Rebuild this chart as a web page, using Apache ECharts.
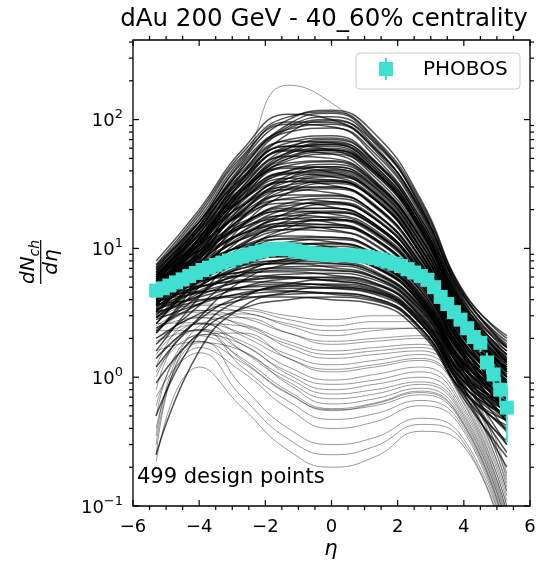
<!DOCTYPE html>
<html>
<head>
<meta charset="utf-8">
<script src="https://cdn.jsdelivr.net/npm/echarts@6/dist/echarts.min.js"></script>
<style>
  html, body { margin: 0; padding: 0; background: #fff; }
  #chart { width: 548px; height: 565px; }
</style>
</head>
<body>
<div id="chart"></div>
<script>
// pseudorapidity points at which each design-point curve is tabulated
const etaGrid = [-5.3, -4, -2.7, -1.3, 0, 1.3, 2.7, 4, 5.3];

// model curves, grouped by the height of their mid-rapidity plateau
const curvesA = [
  [6, 14, 45, 185, 135, 65, 20, 4, 1.4],
  [7.5, 19, 55, 105, 115, 72, 23, 4.5, 2.1],
  [6.5, 16, 48, 100, 118, 78, 24, 4.6, 2.0],
  [8, 20, 58, 110, 100, 58, 19, 4.2, 1.9],
  [5.5, 14, 42, 92, 112, 70, 21, 4, 1.6],
  [7, 17, 50, 96, 95, 60, 20, 4.3, 1.8],
  [6, 15, 44, 88, 105, 68, 22, 4.4, 1.7],
  [5, 12, 38, 85, 100, 62, 19, 3.6, 1.3],
  [7.2, 18, 52, 92, 88, 52, 17, 3.9, 1.7],
  [6.8, 16, 46, 84, 92, 60, 20, 4.2, 1.75],
  [4.5, 11, 34, 78, 98, 66, 21, 3.8, 1.3],
  [6.2, 15, 42, 80, 86, 55, 18, 3.7, 1.5]
];
const curvesB = [
  [6, 14, 38, 70, 75, 48, 16, 3.6, 1.5],
  [5.5, 13, 35, 66, 72, 47, 16, 3.4, 1.4],
  [7, 16, 40, 68, 66, 42, 15, 3.6, 1.7],
  [4.8, 11, 30, 60, 70, 48, 17, 3.5, 1.3],
  [6.5, 14.5, 36, 62, 62, 40, 14, 3.3, 1.5],
  [5, 12, 32, 62, 68, 44, 15, 3.2, 1.25],
  [4, 10, 28, 56, 66, 46, 16, 3.3, 1.15],
  [6.2, 14, 34, 58, 58, 38, 13.5, 3.2, 1.4],
  [5.8, 13, 33, 60, 64, 42, 15, 3.4, 1.35],
  [3.6, 9, 26, 54, 64, 44, 15, 3.0, 1.0],
  [7.4, 16, 38, 62, 58, 36, 13, 3.3, 1.6],
  [5.2, 12, 30, 55, 60, 40, 14, 3.1, 1.2],
  [4.4, 10.5, 28, 52, 58, 40, 14.5, 3.1, 1.1],
  [6.6, 15, 35, 57, 54, 34, 12.5, 3.1, 1.45],
  [5, 11.5, 29, 50, 56, 39, 14, 3.0, 1.15],
  [3.2, 8, 24, 50, 58, 40, 14, 2.8, 0.9],
  [6, 13.5, 32, 52, 50, 33, 12, 3.0, 1.35],
  [4.6, 11, 27, 48, 54, 38, 13.5, 2.9, 1.1]
];
const curvesC = [
  [5.5, 12, 28, 46, 48, 33, 12, 2.9, 1.25],
  [5, 11, 26, 44, 47, 32, 12, 2.8, 1.15],
  [6.2, 13, 28, 43, 42, 29, 11, 2.8, 1.3],
  [4.2, 9.5, 23, 40, 45, 32, 12, 2.7, 1.0],
  [6.8, 14, 29, 42, 39, 26, 10, 2.7, 1.35],
  [4.8, 10.5, 24, 40, 43, 30, 11, 2.6, 1.05],
  [3.6, 8.5, 21, 37, 43, 31, 11.5, 2.6, 0.9],
  [5.6, 11.5, 25, 39, 39, 27, 10, 2.6, 1.15],
  [5.2, 11, 24, 38, 40, 28, 10.5, 2.6, 1.1],
  [3, 7.5, 19, 35, 41, 30, 11, 2.5, 0.85],
  [6, 12.5, 26, 38, 36, 25, 9.5, 2.5, 1.2],
  [4.5, 9.5, 21, 35, 38, 27, 10, 2.4, 0.95],
  [4, 8.8, 20, 33, 37, 27, 10, 2.4, 0.9],
  [5.8, 12, 24, 35, 34, 24, 9, 2.4, 1.15],
  [4.9, 10, 22, 33, 34, 24, 9.2, 2.3, 1.0],
  [2.6, 6.5, 17, 31, 36, 27, 10, 2.3, 0.75],
  [6.4, 12.5, 24, 33, 31, 22, 8.5, 2.4, 1.2],
  [4.3, 9, 19.5, 31, 33, 24, 9, 2.2, 0.9],
  [3.4, 7.6, 17.5, 29, 33, 24.5, 9.2, 2.2, 0.8],
  [5.4, 10.8, 21.5, 30, 30, 21, 8.2, 2.2, 1.05],
  [4.6, 9.4, 19.5, 29, 30, 21.5, 8.4, 2.1, 0.92],
  [2.2, 5.6, 15, 27, 32, 24, 9, 2.1, 0.65],
  [5.9, 11.4, 21.5, 28.5, 27, 19, 7.6, 2.2, 1.1],
  [3.9, 8.2, 17.5, 27, 29, 21.5, 8.3, 2.0, 0.8]
];
const curvesD = [
  [5.2, 10, 19, 26, 26, 19, 7.8, 2.1, 0.95],
  [4.6, 9, 17, 24.5, 25.5, 19, 7.6, 2.0, 0.88],
  [5.8, 10.5, 18.5, 24, 23, 17, 7.2, 2.1, 1.0],
  [3.8, 7.6, 15, 22.5, 24.5, 18.5, 7.5, 1.9, 0.75],
  [6.2, 10.8, 18, 22.5, 21, 15.5, 6.8, 2.0, 1.02],
  [4.4, 8.4, 15.5, 21.5, 22.5, 17, 7, 1.85, 0.8],
  [3.2, 6.6, 13.5, 20.5, 23, 17.5, 7.2, 1.8, 0.68],
  [5, 9, 15.5, 20.5, 20.5, 15.5, 6.6, 1.85, 0.85],
  [4.8, 8.6, 15, 20, 20.5, 15.5, 6.7, 1.8, 0.83],
  [2.6, 5.8, 12, 19, 22, 17, 7, 1.7, 0.6],
  [5.6, 9.6, 16, 19.5, 18.5, 14, 6.2, 1.85, 0.92],
  [4.2, 7.8, 13.5, 18.5, 19.5, 15, 6.4, 1.7, 0.74],
  [3.7, 7, 12.5, 17.5, 19, 14.8, 6.3, 1.65, 0.68],
  [5.4, 9, 14.5, 18, 17.2, 13.2, 5.9, 1.75, 0.88],
  [4.6, 8, 13, 17, 17.5, 13.5, 5.9, 1.65, 0.78],
  [2.2, 5, 10.5, 16.5, 19, 15, 6.3, 1.55, 0.52],
  [6, 9.6, 14.5, 17, 15.8, 12, 5.5, 1.75, 0.95],
  [4, 7.2, 12, 16, 16.5, 12.8, 5.7, 1.55, 0.7],
  [3.3, 6.3, 11, 15.5, 16.8, 13.2, 5.8, 1.5, 0.62],
  [5.2, 8.4, 13, 15.6, 15.2, 11.8, 5.3, 1.6, 0.84],
  [4.4, 7.4, 11.8, 15, 15.3, 12, 5.4, 1.5, 0.72],
  [1.6, 4.2, 9.2, 14.5, 16.8, 13.5, 5.8, 1.4, 0.45],
  [5.7, 8.8, 13, 15, 14, 10.8, 5, 1.6, 0.88],
  [3.7, 6.6, 10.8, 14, 14.6, 11.6, 5.2, 1.45, 0.64],
  [4.9, 7.8, 11.8, 14, 13.6, 10.6, 4.9, 1.5, 0.78],
  [2.9, 5.6, 9.8, 13.4, 14.6, 11.8, 5.3, 1.4, 0.55]
];
const curvesE = [
  [4.8, 7.2, 10.5, 12.5, 12.2, 9.8, 4.7, 1.45, 0.75],
  [4.2, 6.5, 9.6, 12, 12.2, 9.8, 4.7, 1.4, 0.68],
  [5.4, 7.6, 10.4, 11.8, 11.2, 9, 4.4, 1.45, 0.8],
  [3.5, 5.7, 8.8, 11.2, 11.8, 9.6, 4.6, 1.35, 0.6],
  [5.8, 7.8, 10.2, 11, 10.2, 8.2, 4.2, 1.45, 0.85],
  [4, 6, 8.8, 10.6, 10.8, 8.8, 4.3, 1.3, 0.62],
  [2.9, 5, 8, 10.2, 11, 9, 4.4, 1.25, 0.52],
  [4.6, 6.6, 9.1, 10.3, 10, 8.2, 4.1, 1.3, 0.7],
  [4.4, 6.3, 8.7, 9.9, 9.9, 8.1, 4.1, 1.28, 0.68],
  [2.3, 4.3, 7.3, 9.6, 10.4, 8.6, 4.2, 1.2, 0.45],
  [5.1, 6.9, 9, 9.8, 9.3, 7.6, 3.9, 1.32, 0.76],
  [3.8, 5.6, 7.9, 9.3, 9.5, 7.9, 4, 1.22, 0.6],
  [3.3, 5.1, 7.4, 9, 9.4, 7.8, 4, 1.18, 0.55],
  [5, 6.6, 8.4, 9.1, 8.7, 7.2, 3.8, 1.26, 0.74],
  [4.2, 5.8, 7.7, 8.7, 8.7, 7.3, 3.8, 1.18, 0.64],
  [1.8, 3.6, 6.3, 8.4, 9.2, 7.8, 3.9, 1.1, 0.38],
  [5.5, 6.9, 8.3, 8.6, 8, 6.7, 3.6, 1.26, 0.8],
  [3.6, 5.2, 7, 8.2, 8.4, 7.1, 3.7, 1.1, 0.55],
  [2.9, 4.5, 6.6, 8, 8.4, 7.2, 3.7, 1.08, 0.48],
  [4.7, 6, 7.5, 8, 7.7, 6.5, 3.5, 1.15, 0.7],
  [4, 5.4, 7, 7.7, 7.6, 6.5, 3.5, 1.1, 0.6],
  [1.2, 2.9, 5.6, 7.6, 8.4, 7.2, 3.7, 1.0, 0.3],
  [5.2, 6.3, 7.4, 7.6, 7.1, 6, 3.3, 1.15, 0.75],
  [3.3, 4.7, 6.3, 7.2, 7.3, 6.3, 3.4, 1.0, 0.5]
];
const curvesF = [
  [4.4, 5.5, 6.6, 7, 6.8, 6, 3.3, 1.05, 0.6],
  [3.8, 5, 6.2, 6.8, 6.7, 5.9, 3.2, 1.0, 0.55],
  [4.8, 5.7, 6.5, 6.6, 6.2, 5.4, 3.0, 1.02, 0.62],
  [3.1, 4.3, 5.6, 6.3, 6.4, 5.7, 3.1, 0.95, 0.47],
  [5, 5.6, 6.1, 6, 5.6, 4.9, 2.8, 1.0, 0.64],
  [3.6, 4.6, 5.5, 6, 5.9, 5.3, 2.9, 0.92, 0.5],
  [2.4, 3.7, 5, 5.8, 6, 5.4, 3.0, 0.88, 0.38],
  [4.2, 5, 5.7, 5.9, 5.6, 5, 2.8, 0.92, 0.55],
  [0.5, 2.2, 4.1, 5.3, 5.7, 5.2, 2.9, 0.82, 0.26],
  [4.6, 5.1, 5.5, 5.4, 5.1, 4.6, 2.6, 0.94, 0.6],
  [3.4, 4.2, 5, 5.3, 5.2, 4.7, 2.7, 0.85, 0.46],
  [1.4, 2.8, 4.3, 5.1, 5.3, 4.8, 2.7, 0.8, 0.3],
  [3.9, 4.5, 5, 5.1, 4.9, 4.4, 2.6, 0.85, 0.5],
  [2.8, 3.7, 4.5, 4.9, 4.9, 4.5, 2.6, 0.8, 0.4],
  [0.25, 1.6, 3.5, 4.6, 5, 4.6, 2.6, 0.75, 0.2],
  [4.3, 4.6, 4.8, 4.7, 4.4, 4, 2.4, 0.84, 0.52],
  [3.2, 3.9, 4.4, 4.6, 4.5, 4.1, 2.4, 0.76, 0.42],
  [2, 3.1, 4, 4.4, 4.5, 4.1, 2.4, 0.72, 0.32],
  [3.7, 4, 4.2, 4.2, 4, 3.7, 2.2, 0.76, 0.46],
  [0.9, 2.2, 3.4, 4, 4.2, 3.9, 2.3, 0.68, 0.24]
];
const curvesG = [
  [2.8, 3.7, 3.5, 3.0, 2.8, 3.0, 3.0, 1.2, 0.18],
  [2.2, 3.3, 3.3, 2.8, 2.5, 2.7, 2.7, 1.1, 0.16],
  [3.2, 3.6, 3.2, 2.6, 2.3, 2.4, 2.4, 1.0, 0.17],
  [1.2, 3.0, 3.1, 2.5, 2.1, 2.3, 2.4, 1.0, 0.14],
  [2.5, 3.3, 2.9, 2.2, 1.9, 2.0, 2.1, 0.9, 0.15],
  [0.35, 2.5, 2.9, 2.2, 1.8, 1.9, 2.0, 0.85, 0.13],
  [1.8, 2.9, 2.6, 1.9, 1.6, 1.7, 1.8, 0.8, 0.13],
  [2.9, 3.2, 2.5, 1.8, 1.5, 1.6, 1.7, 0.75, 0.12],
  [0.8, 2.6, 2.5, 1.7, 1.4, 1.5, 1.6, 0.72, 0.11],
  [1.5, 2.6, 2.2, 1.5, 1.25, 1.35, 1.5, 0.68, 0.1],
  [2.4, 2.9, 2.1, 1.4, 1.15, 1.25, 1.4, 0.64, 0.1],
  [0.25, 2.1, 2.2, 1.4, 1.1, 1.2, 1.35, 0.62, 0.09],
  [1.0, 2.35, 1.9, 1.2, 0.95, 1.05, 1.2, 0.58, 0.09],
  [2.0, 2.6, 1.8, 1.1, 0.88, 0.95, 1.1, 0.55, 0.085],
  [0.5, 2.15, 1.8, 1.05, 0.8, 0.88, 1.0, 0.52, 0.08],
  [1.4, 2.35, 1.6, 0.98, 0.74, 0.8, 0.92, 0.5, 0.075],
  [2.6, 2.65, 1.6, 0.92, 0.68, 0.74, 0.88, 0.48, 0.07],
  [0.3, 1.85, 1.6, 0.88, 0.62, 0.68, 0.82, 0.46, 0.07],
  [1.1, 2.1, 1.4, 0.78, 0.57, 0.63, 0.78, 0.44, 0.065],
  [1.9, 2.3, 1.35, 0.75, 0.55, 0.62, 0.76, 0.43, 0.06],
  [0.6, 1.9, 1.3, 0.74, 0.56, 0.6, 0.73, 0.42, 0.06],
  [2.3, 2.3, 1.2, 0.65, 0.47, 0.52, 0.66, 0.4, 0.055],
  [0.4, 1.7, 1.1, 0.57, 0.4, 0.45, 0.6, 0.38, 0.05],
  [1.6, 1.9, 0.85, 0.4, 0.3, 0.34, 0.48, 0.33, 0.05],
  [0.7, 1.55, 0.7, 0.33, 0.25, 0.29, 0.43, 0.31, 0.045],
  [0.22, 1.2, 0.58, 0.27, 0.2, 0.24, 0.38, 0.29, 0.04]
];

// PHOBOS measurement
const phobosEta = [
  -5.3, -5.1, -4.9, -4.7, -4.5, -4.3, -4.1, -3.9, -3.7, -3.5, -3.3, -3.1, -2.9, -2.7,
  -2.5, -2.3, -2.1, -1.9, -1.7, -1.5, -1.3, -1.1, -0.9, -0.7, -0.5, -0.3, -0.1,
  0.1, 0.3, 0.5, 0.7, 0.9, 1.1, 1.3, 1.5, 1.7, 1.9, 2.1, 2.3, 2.5, 2.7, 2.9,
  3.1, 3.3, 3.5, 3.7, 3.9, 4.1, 4.3, 4.5, 4.7, 4.9, 5.1, 5.3
];
const phobosVal = [
  4.7, 4.9, 5.15, 5.45, 5.75, 6.1, 6.45, 6.8, 7.1, 7.45, 7.75, 8.05, 8.35, 8.65,
  8.95, 9.25, 9.5, 9.75, 9.9, 9.95, 9.85, 9.6, 9.4, 9.25, 9.1, 9.0, 8.95,
  8.9, 8.9, 8.85, 8.8, 8.7, 8.6, 8.4, 8.2, 7.9, 7.6, 7.3, 6.9, 6.5, 6.1, 5.7,
  5.0, 4.2, 3.7, 3.2, 2.8, 2.4, 2.05, 1.85, 1.3, 1.05, 0.8, 0.58
];
const phobosErr = [
  0.35, 0.35, 0.4, 0.4, 0.4, 0.45, 0.45, 0.5, 0.5, 0.55, 0.55, 0.6, 0.6, 0.6,
  0.65, 0.65, 0.7, 0.7, 0.7, 0.7, 0.7, 0.7, 0.65, 0.65, 0.65, 0.65, 0.65,
  0.65, 0.65, 0.65, 0.65, 0.65, 0.6, 0.6, 0.6, 0.6, 0.55, 0.55, 0.5, 0.5, 0.45, 0.45,
  0.4, 0.35, 0.3, 0.28, 0.25, 0.22, 0.22, 0.28, 0.25, 0.22, 0.2, 0.27
];

// axis ticks
const xTickLabels = [-6, -4, -2, 0, 2, 4, 6];
const xMinorStep = 0.5;
const yTickValues = [0.1, 1, 10, 100];
const yMax = 415;

const TURQ = '#40e0d0';
const FONT = '"DejaVu Sans", "Liberation Sans", sans-serif';

const chart = echarts.init(document.getElementById('chart'), null, { renderer: 'canvas' });

const series = [];
function addCurves(group, style) {
  group.forEach(curve => {
    series.push({
      type: 'line',
      data: etaGrid.map((e, i) => [e, curve[i]]),
      symbol: 'none',
      smooth: 0.5,
      lineStyle: style,
      silent: true,
      z: 1
    });
  });
}
const denseStyle = { color: '#000', width: 1.5, opacity: 0.68 };
const sparseStyle = { color: '#000', width: 1, opacity: 0.4 };
addCurves(curvesA.slice(0, 1), sparseStyle);
addCurves(curvesA.slice(1), denseStyle);
[curvesB, curvesC, curvesD, curvesE, curvesF].forEach(g => addCurves(g, denseStyle));
addCurves(curvesG, sparseStyle);

// error bars
series.push({
  type: 'custom',
  z: 3,
  silent: true,
  data: phobosEta.map((e, i) => [e, phobosVal[i] - phobosErr[i], phobosVal[i] + phobosErr[i]]),
  encode: { x: 0, y: [1, 2] },
  renderItem: (params, api) => {
    const a = api.coord([api.value(0), api.value(1)]);
    const b = api.coord([api.value(0), api.value(2)]);
    return { type: 'line', shape: { x1: a[0], y1: a[1], x2: b[0], y2: b[1] },
             style: { stroke: TURQ, lineWidth: 2 } };
  }
});

// PHOBOS markers
series.push({
  type: 'scatter',
  z: 4,
  silent: true,
  symbol: 'rect',
  symbolSize: 14,
  itemStyle: { color: TURQ, opacity: 1 },
  data: phobosEta.map((e, i) => [e, phobosVal[i]])
});

// frame ticks: major ticks point into the frame, minor ticks point out
const xMinor = [];
for (let v = xTickLabels[0]; v <= xTickLabels[xTickLabels.length - 1] + 1e-9; v += xMinorStep) {
  if (!xTickLabels.some(t => Math.abs(t - v) < 1e-9)) xMinor.push(v);
}
const yMinor = [];
yTickValues.forEach(base => {
  for (let m = 2; m <= 9; m++) { const v = m * base; if (v <= yMax) yMinor.push(v); }
});
const MAJ = 6, MIN = 4;
series.push({
  type: 'custom',
  z: 6,
  silent: true,
  clip: false,
  data: [[0, 1]],
  renderItem: (params, api) => {
    const cs = params.coordSys;
    const L = cs.x, R = cs.x + cs.width, T = cs.y, B = cs.y + cs.height;
    const kids = [];
    const seg = (x1, y1, x2, y2) => kids.push({ type: 'line', shape: { x1, y1, x2, y2 },
      style: { stroke: '#000', lineWidth: 1.2 } });
    xTickLabels.forEach(v => { const x = api.coord([v, 1])[0]; seg(x, B, x, B - MAJ); seg(x, T, x, T + MAJ); });
    xMinor.forEach(v => { const x = api.coord([v, 1])[0]; seg(x, B, x, B + MIN); seg(x, T, x, T - MIN); });
    yTickValues.forEach(v => { const y = api.coord([0, v])[1]; seg(L, y, L + MAJ, y); seg(R, y, R - MAJ, y); });
    yMinor.forEach(v => { const y = api.coord([0, v])[1]; seg(L, y, L - MIN, y); seg(R, y, R + MIN, y); });
    return { type: 'group', children: kids };
  }
});

const minus = s => String(s).replace('-', '\u2212');

const option = {
  animation: false,
  backgroundColor: '#fff',
  grid: { left: 133, top: 40, width: 397, height: 466, show: true, borderColor: '#000', borderWidth: 1.3, backgroundColor: 'transparent' },
  xAxis: {
    type: 'value', min: -6, max: 6, interval: 2,
    axisLine: { show: false }, axisTick: { show: false }, splitLine: { show: false },
    axisLabel: { margin: 12, color: '#000', fontFamily: FONT, fontSize: 18, formatter: v => minus(v) }
  },
  yAxis: {
    type: 'log', logBase: 10, min: 0.1, max: yMax,
    axisLine: { show: false }, axisTick: { show: false }, splitLine: { show: false }, minorTick: { show: false },
    axisLabel: {
      margin: 10, color: '#000', fontFamily: FONT,
      formatter: v => {
        const e = Math.log10(v);
        if (Math.abs(e - Math.round(e)) > 1e-6) return '';
        return '{b|10}{s|' + minus(Math.round(e)) + '}';
      },
      rich: {
        b: { fontSize: 18, fontFamily: FONT, color: '#000', lineHeight: 22, verticalAlign: 'bottom' },
        s: { fontSize: 13, fontFamily: FONT, color: '#000', lineHeight: 13, verticalAlign: 'top' }
      }
    }
  },
  series: series,
  graphic: [
    { type: 'text', x: 324, y: 20, z: 10,
      style: { text: 'dAu 200 GeV - 40_60% centrality', font: '24.5px ' + FONT, fill: '#000', align: 'center', verticalAlign: 'middle' } },
    { type: 'text', x: 137, y: 478, z: 10,
      style: { text: '499 design points', font: '21px ' + FONT, fill: '#000', align: 'left', verticalAlign: 'middle' } },
    { type: 'text', x: 331, y: 550, z: 10,
      style: { text: '\u03b7', font: 'italic 21px ' + FONT, fill: '#000', align: 'center', verticalAlign: 'middle' } },
    // y-axis title: dN_ch / d eta as a stacked fraction, rotated
    { type: 'group', x: 40.7, y: 262, rotation: Math.PI / 2, z: 10,
      children: [
        { type: 'text', x: -22, y: -2, style: { text: 'dN', font: 'italic 20px ' + FONT, fill: '#000', align: 'left', verticalAlign: 'bottom' } },
        { type: 'text', x: 5.5, y: 2, style: { text: 'ch', font: 'italic 14px ' + FONT, fill: '#000', align: 'left', verticalAlign: 'bottom' } },
        { type: 'line', shape: { x1: -22, y1: 0, x2: 22, y2: 0 }, style: { stroke: '#000', lineWidth: 1.2 } },
        { type: 'text', x: 0, y: 1, style: { text: 'd\u03b7', font: 'italic 20px ' + FONT, fill: '#000', align: 'center', verticalAlign: 'top' } }
      ] },
    // legend
    { type: 'rect', z: 10, shape: { x: 356, y: 53, width: 164, height: 36, r: 4 },
      style: { fill: 'rgba(255,255,255,0.8)', stroke: '#cccccc', lineWidth: 1 } },
    { type: 'line', z: 11, shape: { x1: 386, y1: 58, x2: 386, y2: 80 }, style: { stroke: TURQ, lineWidth: 2 } },
    { type: 'rect', z: 11, shape: { x: 379, y: 62, width: 14, height: 14 }, style: { fill: TURQ } },
    { type: 'text', x: 423, y: 70, z: 11,
      style: { text: 'PHOBOS', font: '20px ' + FONT, fill: '#000', align: 'left', verticalAlign: 'middle' } }
  ]
};

chart.setOption(option);
</script>
</body>
</html>
